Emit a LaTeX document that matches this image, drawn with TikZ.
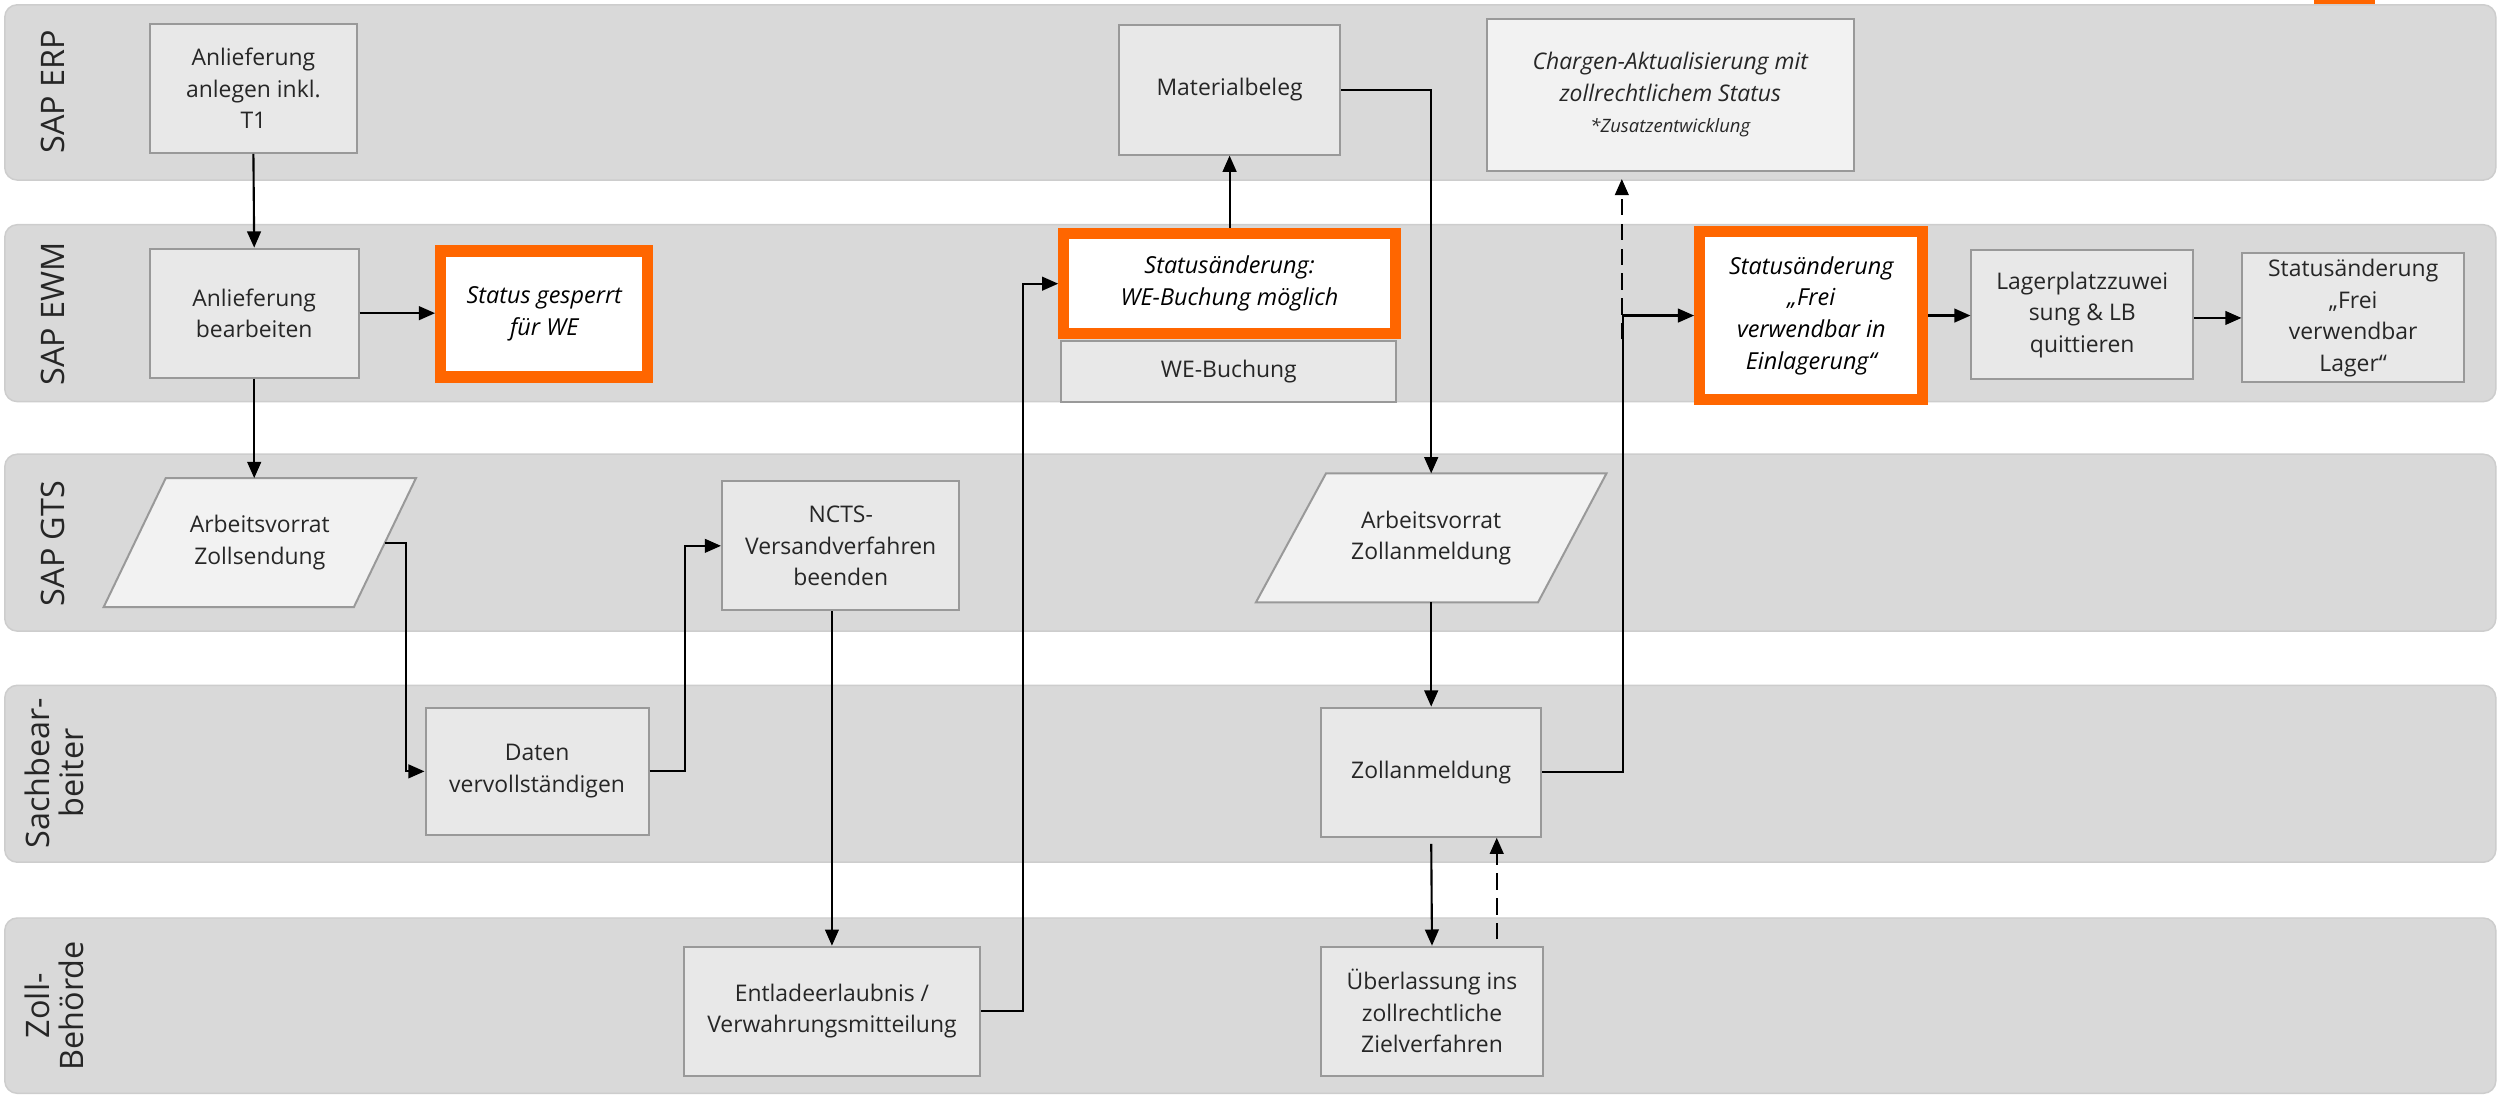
\documentclass[tikz,border=0pt]{standalone}
\usepackage{fontspec}
\setmainfont{Open Sans}
\usetikzlibrary{arrows.meta,calc}
\definecolor{lanefill}{HTML}{D9D9D9}
\definecolor{laneline}{HTML}{CDCDCD}
\definecolor{boxfill}{HTML}{E8E8E8}
\definecolor{boxline}{HTML}{999999}
\definecolor{parafill}{HTML}{F2F2F2}
\definecolor{accent}{HTML}{FF6600}
\definecolor{txt}{HTML}{262626}
\newcommand{\mybox}[7]{\node[#1, minimum width={((#5)-(#3))*0.64pt}, minimum height={((#6)-(#4))*0.64pt}] (#2) at ({((#3)+(#5))/2},{((#4)+(#6))/2}) {#7};}
\tikzset{
  lane/.style={fill=lanefill, draw=laneline, line width=0.6pt, rounded corners=5pt},
  lanelabel/.style={rotate=90, font=\fontsize{13}{13.5}\selectfont, text=txt, align=center, inner sep=0pt},
  gbox/.style={draw=boxline, fill=boxfill, line width=0.8pt, align=center, inner sep=1pt, font=\fontsize{9.2}{12.7}\selectfont, text=txt},
  lbox/.style={gbox, fill=parafill},
  obox/.style={draw=accent, fill=white, line width=4.5pt, align=center, inner sep=1pt, font=\fontsize{9.4}{12.7}\selectfont\itshape, text=black},
  ghost/.style={inner sep=0pt, outer sep=0pt, align=center, font=\fontsize{9.2}{12.7}\selectfont, text=txt},
  para/.style={draw=boxline, fill=parafill, line width=0.8pt},
  conn/.style={line width=0.85pt, -{Triangle[length=6.5pt,width=5.5pt]}},
  dconn/.style={conn, dash pattern=on 6.5pt off 3.5pt},
}
\begin{document}
\begin{tikzpicture}[x=0.64pt, y=-0.64pt]
\useasboundingbox (0,0) rectangle (1568,688);
% top tab
\fill[accent] (1452,0) rectangle (1490,3);
% lanes
\draw[lane] (3,3) rectangle (1566,113);
\draw[lane] (3,141) rectangle (1566,252);
\draw[lane] (3,285) rectangle (1566,396);
\draw[lane] (3,430) rectangle (1566,541);
\draw[lane] (3,576) rectangle (1566,686);
\node[lanelabel] (l1) at (33,57.5) {SAP ERP};
\node[lanelabel] (l2) at (33,197) {SAP EWM};
\node[lanelabel] (l3) at (33,341) {SAP GTS};
\node[lanelabel] (l4) at (34,485) {Sachbear-\\beiter};
\node[lanelabel] (l5) at (34,631) {Zoll-\\Behörde};
% SAP ERP
\mybox{gbox}{anlegen}{94}{15}{224}{96}{Anlieferung\\anlegen inkl.\\T1}
\mybox{gbox}{mat}{702}{16}{841}{97}{Materialbeleg}
\mybox{lbox}{chargen}{933}{12}{1163}{107}{\itshape Chargen-Aktualisierung mit\\\itshape zollrechtlichem Status\\{\fontsize{7.4}{9}\selectfont\itshape *Zusatzentwicklung}}
% SAP EWM
\mybox{gbox}{bearbeiten}{94}{156}{225}{237}{Anlieferung\\bearbeiten}
\mybox{obox}{gesperrt}{276.5}{157.5}{406.5}{236.5}{Status gesperrt\\für WE}
\mybox{obox}{wem}{667.5}{146.5}{875.5}{209.5}{Statusänderung:\\WE-Buchung möglich}
\mybox{gbox}{webu}{666}{214}{876}{252}{WE-Buchung}
\mybox{obox}{frei}{1066.5}{145.5}{1206.5}{250.5}{Statusänderung\\„Frei\\verwendbar in\\Einlagerung“}
\mybox{gbox}{lager}{1237}{157}{1376}{238}{Lagerplatzzuwei\\sung \& LB\\quittieren}
\mybox{gbox}{statl}{1407}{159}{1546}{240}{Statusänderung\\„Frei\\verwendbar\\Lager“}
% SAP GTS
\draw[para] (104,300) -- (261,300) -- (222,381) -- (65,381) -- cycle;
\mybox{ghost}{zs}{65}{300}{261}{381}{Arbeitsvorrat\\Zollsendung}
\coordinate (zs-e) at (241.5,340.5);
\mybox{gbox}{ncts}{453}{302}{602}{383}{NCTS-\\Versandverfahren\\beenden}
\draw[para] (832,297) -- (1008,297) -- (965,378) -- (788,378) -- cycle;
\mybox{ghost}{zap}{788}{297}{1008}{378}{Arbeitsvorrat\\Zollanmeldung}
% Sachbearbeiter
\mybox{gbox}{daten}{267}{444}{407}{524}{Daten\\vervollständigen}
\mybox{gbox}{zoll}{829}{444}{967}{525}{Zollanmeldung}
% Zollbehoerde
\mybox{gbox}{entl}{429}{594}{615}{675}{Entladeerlaubnis /\\Verwahrungsmitteilung}
\mybox{gbox}{uber}{829}{594}{968}{675}{Überlassung ins\\zollrechtliche\\Zielverfahren}
% connectors
\draw[conn] (anlegen.south) -- (bearbeiten.north);
\draw[conn] (bearbeiten.east) -- (bearbeiten.east -| gesperrt.west);
\draw[conn] (bearbeiten.south) -- (bearbeiten.south |- zs.north);
\draw[conn] (zs-e) -- ++(13,0) |- (daten.west);
\draw[conn] (daten.east) -- ++(22,0) |- (ncts.west);
\draw[conn] (ncts.south -| entl.north) -- (entl.north);
\draw[conn] (entl.east) -- ++(26,0) |- (wem.west);
\draw[conn] (wem.north) -- (mat.south);
\draw[conn] (mat.east) -| (zoll.north |- zap.north);
\draw[conn] (zoll.north |- zap.south) -- (zoll.north);
\draw[conn] (zoll.east) -- ++(50.6,0) |- (frei.west);
\coordinate (dstart) at (1017.6,213);
\draw[dconn, shorten >=3pt] (dstart) -- (dstart |- chargen.south);
\draw[conn] (frei.east) -- (frei.east -| lager.west);
\draw[conn] (lager.east |- statl.west) -- (statl.west);
\draw[conn, shorten <=2.5pt] (zoll.south) -- (uber.north);
\draw[dconn, shorten <=2.5pt] ([xshift=26pt]uber.north) -- ([xshift=26pt]uber.north |- zoll.south);
\end{tikzpicture}
\end{document}
